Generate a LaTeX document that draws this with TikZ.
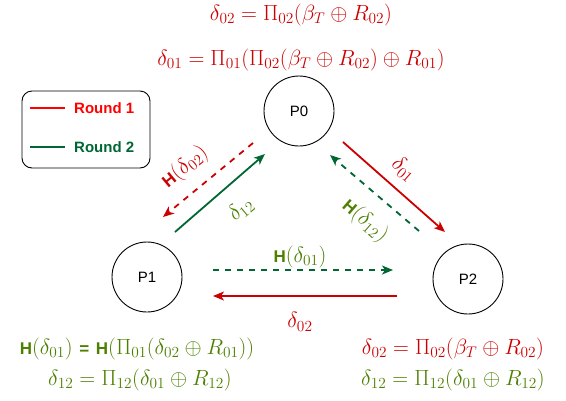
\RequirePackage{fix-cm}
\documentclass[tikz,border=0pt]{standalone}
\usepackage{fontspec}
\setsansfont{Liberation Sans}
\usetikzlibrary{arrows.meta}
\definecolor{rtext}{HTML}{CC0000}
\definecolor{gtext}{HTML}{4D7F00}
\definecolor{garrow}{HTML}{006633}
\definecolor{rarrow}{HTML}{CC0000}
\definecolor{rlegend}{HTML}{FF0000}
\newcommand{\Hb}{{\fontsize{17}{20}\selectfont\textsf{\textbf{H}}}}
\newcommand{\Eqb}{{\fontsize{17}{20}\selectfont\textsf{\textbf{=}}}}
\begin{document}
\begin{tikzpicture}[x=1pt,y=-1pt,
  proc/.style={circle,draw=black,line width=0.9pt,minimum size=70pt,inner sep=0pt,font=\sffamily\fontsize{15}{17}\selectfont},
  mtext/.style={inner sep=0pt,font=\fontsize{22}{25}\selectfont},
  arr/.style={line width=1.8pt,-{Stealth[length=11pt,width=9pt,inset=3pt]}},
  dsh/.style={dash pattern=on 6pt off 6pt},
  legtxt/.style={anchor=west,inner sep=0pt,font=\sffamily\bfseries\fontsize{15}{17}\selectfont}]
\useasboundingbox (0,0) rectangle (566,400);
% legend
\node[draw=black,line width=0.9pt,rounded corners=10pt,minimum width=128pt,minimum height=77pt,inner sep=0pt] (leg) at (86,129.5) {};
\coordinate (l1a) at (30,108); \coordinate (l1b) at (65,108);
\coordinate (l2a) at (30,147); \coordinate (l2b) at (65,147);
\draw[rlegend,line width=2.6pt] (l1a) -- (l1b);
\draw[garrow,line width=2.6pt] (l2a) -- (l2b);
\node[legtxt,text=rlegend] (r1) at (74,108) {Round 1};
\node[legtxt,text=garrow] (r2) at (74,147) {Round 2};
% processes
\node[proc] (p0) at (299,111) {P0};
\node[proc] (p1) at (147,277) {P1};
\node[proc] (p2) at (468,279) {P2};
% top equations
\node[mtext,text=rtext] (t1) at (301,15) {$\delta_{02} = \Pi_{02}(\beta_T \oplus R_{02})$};
\node[mtext,text=rtext] (t2) at (301,60) {$\delta_{01} = \Pi_{01}(\Pi_{02}(\beta_T \oplus R_{02}) \oplus R_{01})$};
% arrows
\coordinate (a1s) at (253,143); \coordinate (a1e) at (163,217);
\coordinate (a2s) at (175,232); \coordinate (a2e) at (265,154);
\coordinate (a3s) at (343,142); \coordinate (a3e) at (445,232);
\coordinate (a4s) at (419,231); \coordinate (a4e) at (330,155);
\coordinate (a5s) at (213,270); \coordinate (a5e) at (393,270);
\coordinate (a6s) at (397,296); \coordinate (a6e) at (213,296);
\draw[arr,dsh,rarrow] (a1s) -- (a1e);
\draw[arr,garrow] (a2s) -- (a2e);
\draw[arr,rarrow] (a3s) -- (a3e);
\draw[arr,dsh,garrow] (a4s) -- (a4e);
\draw[arr,dsh,garrow] (a5s) -- (a5e);
\draw[arr,rarrow] (a6s) -- (a6e);
% arrow labels
\node[mtext,text=rtext,rotate=40] (lb1) at (185,167) {\Hb$(\delta_{02})$};
\node[mtext,text=gtext,rotate=40] (lb2) at (241,209) {$\delta_{12}$};
\node[mtext,text=rtext,rotate=-41] (lb3) at (404,169) {$\delta_{01}$};
\node[mtext,text=gtext,rotate=-41] (lb4) at (365,221) {\Hb$(\delta_{12})$};
\node[mtext,text=gtext] (lb5) at (300,257) {\Hb$(\delta_{01})$};
\node[mtext,text=rtext] (lb6) at (300,322) {$\delta_{02}$};
% bottom equations
\node[mtext,text=gtext] (b1) at (137,349) {\Hb$(\delta_{01})$ \Eqb{} \Hb$(\Pi_{01}(\delta_{02} \oplus R_{01}))$};
\node[mtext,text=gtext] (b2) at (140,380) {$\delta_{12} = \Pi_{12}(\delta_{01} \oplus R_{12})$};
\node[mtext,text=rtext] (b3) at (453,349) {$\delta_{02} = \Pi_{02}(\beta_T \oplus R_{02})$};
\node[mtext,text=gtext] (b4) at (453,380) {$\delta_{12} = \Pi_{12}(\delta_{01} \oplus R_{12})$};
\end{tikzpicture}
\end{document}
